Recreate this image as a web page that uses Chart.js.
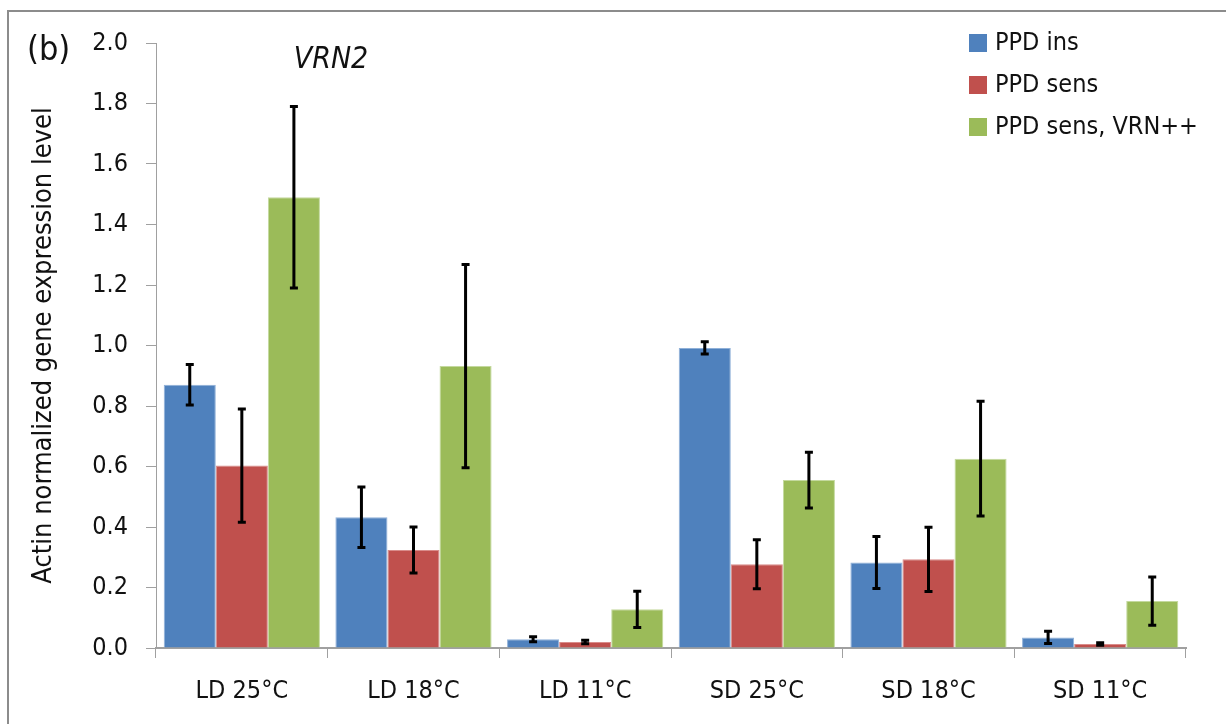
<!DOCTYPE html>
<html>
<head>
<meta charset="utf-8">
<script src="https://cdn.jsdelivr.net/npm/chart.js@4"></script>
<style>
  html, body { margin: 0; padding: 0; background: #fff; }
  #wrap { width: 1226px; height: 724px; position: relative; }
</style>
</head>
<body>
<div id="wrap"><canvas id="chart"></canvas></div>
<script>
// data
const categories = ['LD 25°C', 'LD 18°C', 'LD 11°C', 'SD 25°C', 'SD 18°C', 'SD 11°C'];
const seriesNames = ['PPD ins', 'PPD sens', 'PPD sens, VRN++'];
const ppdIns = [0.87, 0.432, 0.029, 0.992, 0.283, 0.035];
const ppdSens = [0.603, 0.324, 0.020, 0.277, 0.293, 0.013];
const ppdSensVrn = [1.49, 0.932, 0.128, 0.555, 0.626, 0.155];
const ppdInsErr = [0.067, 0.10, 0.008, 0.02, 0.086, 0.02];
const ppdSensErr = [0.187, 0.076, 0.006, 0.081, 0.106, 0.004];
const ppdSensVrnErr = [0.30, 0.336, 0.06, 0.092, 0.19, 0.08];
const yTicks = [0, 0.2, 0.4, 0.6, 0.8, 1.0, 1.2, 1.4, 1.6, 1.8, 2.0];

const colors = ['#4F81BD', '#C0504D', '#9BBB59'];
const edgeColors = ['#8FB0D8', '#D98C8A', '#C4D99E'];
const errorSets = [ppdInsErr, ppdSensErr, ppdSensVrnErr];
const FONT = "'DejaVu Sans Condensed', sans-serif";
const axisGray = '#a0a0a0';

// error bars, drawn through the y scale
const errorBarPlugin = {
    id: 'errorBars',
    afterDatasetsDraw(chart) {
        const ctx = chart.ctx;
        const yScale = chart.scales.y;
        ctx.save();
        ctx.strokeStyle = '#000';
        ctx.lineWidth = 3;
        chart.data.datasets.forEach(function(ds, i) {
            const meta = chart.getDatasetMeta(i);
            meta.data.forEach(function(bar, j) {
                const v = ds.data[j];
                const e = errorSets[i][j];
                const yTop = yScale.getPixelForValue(v + e);
                const yBot = yScale.getPixelForValue(v - e);
                ctx.beginPath();
                ctx.moveTo(bar.x, yTop);
                ctx.lineTo(bar.x, yBot);
                ctx.moveTo(bar.x - 4, yTop);
                ctx.lineTo(bar.x + 4, yTop);
                ctx.moveTo(bar.x - 4, yBot);
                ctx.lineTo(bar.x + 4, yBot);
                ctx.stroke();
            });
        });
        ctx.restore();
    }
};

// frame, panel letter, gene name and legend
const decorPlugin = {
    id: 'decor',
    afterDraw(chart) {
        const ctx = chart.ctx;
        ctx.save();
        ctx.strokeStyle = '#8c8c8c';
        ctx.lineWidth = 2;
        ctx.beginPath();
        ctx.moveTo(8, 724);
        ctx.lineTo(8, 11);
        ctx.lineTo(1226, 11);
        ctx.stroke();

        ctx.fillStyle = '#111';
        ctx.textBaseline = 'middle';
        ctx.font = '34px ' + FONT;
        ctx.fillText('(b)', 27, 51);
        ctx.font = 'italic 30px ' + FONT;
        ctx.textAlign = 'center';
        ctx.fillText('VRN2', 331, 60);

        ctx.textAlign = 'left';
        ctx.font = '25px ' + FONT;
        chart.data.datasets.forEach(function(ds, i) {
            const y = 43 + i * 42;
            ctx.fillStyle = ds.backgroundColor;
            ctx.fillRect(969, y - 9, 18, 18);
            ctx.fillStyle = '#111';
            ctx.fillText(ds.label, 995, y);
        });
        ctx.restore();
    }
};

const ctx = document.getElementById('chart').getContext('2d');
new Chart(ctx, {
    type: 'bar',
    data: {
        labels: categories,
        datasets: [
            { label: seriesNames[0], data: ppdIns, backgroundColor: colors[0], borderColor: edgeColors[0], borderWidth: 1 },
            { label: seriesNames[1], data: ppdSens, backgroundColor: colors[1], borderColor: edgeColors[1], borderWidth: 1 },
            { label: seriesNames[2], data: ppdSensVrn, backgroundColor: colors[2], borderColor: edgeColors[2], borderWidth: 1 }
        ]
    },
    options: {
        responsive: true,
        maintainAspectRatio: false,
        animation: false,
        categoryPercentage: 0.91,
        barPercentage: 1.0,
        layout: { padding: { top: 43, right: 40, left: 0, bottom: 0 } },
        plugins: {
            legend: { display: false },
            tooltip: { enabled: false }
        },
        scales: {
            x: {
                afterFit: function(s) { s.height = 76; },
                grid: { drawOnChartArea: false, drawTicks: true, tickLength: 10, color: axisGray, offset: true },
                border: { color: axisGray, width: 2 },
                ticks: { color: '#111', font: { family: FONT, size: 25 }, padding: 18 }
            },
            y: {
                min: 0,
                max: 2,
                afterFit: function(s) { s.width = 156; },
                afterBuildTicks: function(s) { s.ticks = yTicks.map(function(v) { return { value: v }; }); },
                grid: { drawOnChartArea: false, drawTicks: true, tickLength: 10, color: axisGray },
                border: { color: axisGray, width: 1 },
                ticks: {
                    color: '#111',
                    font: { family: FONT, size: 25 },
                    padding: 18,
                    callback: function(v) { return Number(v).toFixed(1); }
                },
                title: {
                    display: true,
                    text: 'Actin normalized gene expression level',
                    color: '#111',
                    font: { family: FONT, size: 27 },
                    padding: { top: 28, bottom: 0 }
                }
            }
        }
    },
    plugins: [errorBarPlugin, decorPlugin]
});
</script>
</body>
</html>
